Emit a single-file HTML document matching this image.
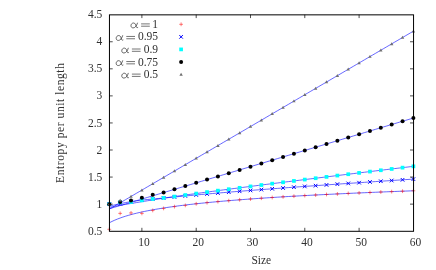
<!DOCTYPE html>
<html><head><meta charset="utf-8"><style>
html,body{margin:0;padding:0;background:#fff;}
svg{display:block}
.t{font-family:"Liberation Serif",serif;font-size:11.5px;fill:#303030;filter:grayscale(1)}
</style></head><body>
<svg width="436" height="270" viewBox="0 0 436 270">
<rect width="436" height="270" fill="#fff"/>
<path d="M109.30 222.82 L112.02 221.42 L114.73 220.18 L117.45 219.05 L120.16 218.02 L122.88 217.07 L125.59 216.20 L128.31 215.38 L131.02 214.62 L133.74 213.90 L136.45 213.23 L139.17 212.59 L141.88 211.98 L144.60 211.40 L147.31 210.85 L150.03 210.33 L152.74 209.82 L155.46 209.34 L158.17 208.88 L160.89 208.43 L163.60 208.00 L166.32 207.59 L169.03 207.18 L171.75 206.80 L174.46 206.42 L177.18 206.06 L179.89 205.70 L182.61 205.36 L185.32 205.03 L188.04 204.70 L190.76 204.39 L193.47 204.08 L196.19 203.78 L198.90 203.49 L201.62 203.21 L204.33 202.93 L207.05 202.65 L209.76 202.39 L212.48 202.13 L215.19 201.87 L217.91 201.63 L220.62 201.38 L223.34 201.14 L226.05 200.91 L228.77 200.68 L231.48 200.45 L234.20 200.23 L236.91 200.02 L239.63 199.80 L242.34 199.59 L245.06 199.39 L247.77 199.19 L250.49 198.99 L253.20 198.79 L255.92 198.60 L258.63 198.41 L261.35 198.22 L264.07 198.04 L266.78 197.86 L269.50 197.68 L272.21 197.51 L274.93 197.33 L277.64 197.16 L280.36 197.00 L283.07 196.83 L285.79 196.67 L288.50 196.51 L291.22 196.35 L293.93 196.19 L296.65 196.04 L299.36 195.88 L302.08 195.73 L304.79 195.58 L307.51 195.44 L310.22 195.29 L312.94 195.15 L315.65 195.01 L318.37 194.87 L321.08 194.73 L323.80 194.59 L326.51 194.46 L329.23 194.32 L331.94 194.19 L334.66 194.06 L337.38 193.93 L340.09 193.80 L342.81 193.68 L345.52 193.55 L348.24 193.43 L350.95 193.31 L353.67 193.18 L356.38 193.06 L359.10 192.95 L361.81 192.83 L364.53 192.71 L367.24 192.60 L369.96 192.48 L372.67 192.37 L375.39 192.26 L378.10 192.15 L380.82 192.04 L383.53 191.93 L386.25 191.82 L388.96 191.71 L391.68 191.61 L394.39 191.50 L397.11 191.40 L399.82 191.29 L402.54 191.19 L405.25 191.09 L407.97 190.99 L410.68 190.89 L413.40 190.79" fill="none" stroke="#0000ff" stroke-width="0.6"/>
<path d="M109.30 206.20 L112.02 205.51 L114.73 204.86 L117.45 204.25 L120.16 203.67 L122.88 203.11 L125.59 202.59 L128.31 202.10 L131.02 201.63 L133.74 201.20 L136.45 200.81 L139.17 200.45 L141.88 200.12 L144.60 199.82 L147.31 199.53 L150.03 199.27 L152.74 199.02 L155.46 198.77 L158.17 198.53 L160.89 198.28 L163.60 198.03 L166.32 197.78 L169.03 197.53 L171.75 197.27 L174.46 197.01 L177.18 196.75 L179.89 196.49 L182.61 196.23 L185.32 195.97 L188.04 195.72 L190.76 195.46 L193.47 195.21 L196.19 194.97 L198.90 194.72 L201.62 194.48 L204.33 194.24 L207.05 194.00 L209.76 193.77 L212.48 193.53 L215.19 193.30 L217.91 193.07 L220.62 192.84 L223.34 192.62 L226.05 192.39 L228.77 192.17 L231.48 191.95 L234.20 191.73 L236.91 191.51 L239.63 191.30 L242.34 191.08 L245.06 190.87 L247.77 190.65 L250.49 190.44 L253.20 190.23 L255.92 190.02 L258.63 189.82 L261.35 189.61 L264.07 189.40 L266.78 189.20 L269.50 189.00 L272.21 188.79 L274.93 188.59 L277.64 188.39 L280.36 188.19 L283.07 187.99 L285.79 187.79 L288.50 187.59 L291.22 187.40 L293.93 187.20 L296.65 187.01 L299.36 186.81 L302.08 186.62 L304.79 186.42 L307.51 186.23 L310.22 186.04 L312.94 185.85 L315.65 185.66 L318.37 185.47 L321.08 185.28 L323.80 185.09 L326.51 184.90 L329.23 184.71 L331.94 184.53 L334.66 184.34 L337.38 184.15 L340.09 183.97 L342.81 183.78 L345.52 183.60 L348.24 183.42 L350.95 183.23 L353.67 183.05 L356.38 182.87 L359.10 182.68 L361.81 182.50 L364.53 182.32 L367.24 182.14 L369.96 181.96 L372.67 181.78 L375.39 181.60 L378.10 181.42 L380.82 181.24 L383.53 181.06 L386.25 180.88 L388.96 180.71 L391.68 180.53 L394.39 180.35 L397.11 180.17 L399.82 180.00 L402.54 179.82 L405.25 179.64 L407.97 179.47 L410.68 179.29 L413.40 179.12" fill="none" stroke="#0000ff" stroke-width="0.6"/>
<path d="M109.30 207.43 L112.02 206.85 L114.73 206.31 L117.45 205.80 L120.16 205.31 L122.88 204.84 L125.59 204.38 L128.31 203.93 L131.02 203.48 L133.74 203.04 L136.45 202.59 L139.17 202.15 L141.88 201.70 L144.60 201.25 L147.31 200.80 L150.03 200.35 L152.74 199.90 L155.46 199.46 L158.17 199.02 L160.89 198.59 L163.60 198.17 L166.32 197.76 L169.03 197.35 L171.75 196.95 L174.46 196.56 L177.18 196.17 L179.89 195.79 L182.61 195.41 L185.32 195.03 L188.04 194.65 L190.76 194.28 L193.47 193.91 L196.19 193.54 L198.90 193.17 L201.62 192.81 L204.33 192.44 L207.05 192.08 L209.76 191.72 L212.48 191.36 L215.19 191.00 L217.91 190.64 L220.62 190.28 L223.34 189.92 L226.05 189.57 L228.77 189.21 L231.48 188.86 L234.20 188.51 L236.91 188.16 L239.63 187.81 L242.34 187.46 L245.06 187.11 L247.77 186.76 L250.49 186.41 L253.20 186.06 L255.92 185.72 L258.63 185.37 L261.35 185.03 L264.07 184.68 L266.78 184.34 L269.50 183.99 L272.21 183.65 L274.93 183.31 L277.64 182.97 L280.36 182.63 L283.07 182.29 L285.79 181.95 L288.50 181.61 L291.22 181.27 L293.93 180.93 L296.65 180.59 L299.36 180.25 L302.08 179.91 L304.79 179.58 L307.51 179.24 L310.22 178.90 L312.94 178.57 L315.65 178.23 L318.37 177.90 L321.08 177.56 L323.80 177.23 L326.51 176.89 L329.23 176.56 L331.94 176.22 L334.66 175.89 L337.38 175.56 L340.09 175.23 L342.81 174.89 L345.52 174.56 L348.24 174.23 L350.95 173.90 L353.67 173.57 L356.38 173.23 L359.10 172.90 L361.81 172.57 L364.53 172.24 L367.24 171.91 L369.96 171.58 L372.67 171.25 L375.39 170.92 L378.10 170.59 L380.82 170.27 L383.53 169.94 L386.25 169.61 L388.96 169.28 L391.68 168.95 L394.39 168.62 L397.11 168.30 L399.82 167.97 L402.54 167.64 L405.25 167.31 L407.97 166.99 L410.68 166.66 L413.40 166.33" fill="none" stroke="#0000ff" stroke-width="0.6"/>
<path d="M109.30 208.80 L112.02 207.99 L114.73 207.18 L117.45 206.37 L120.16 205.56 L122.88 204.75 L125.59 203.94 L128.31 203.13 L131.02 202.32 L133.74 201.51 L136.45 200.70 L139.17 199.89 L141.88 199.08 L144.60 198.27 L147.31 197.46 L150.03 196.65 L152.74 195.83 L155.46 195.02 L158.17 194.21 L160.89 193.40 L163.60 192.59 L166.32 191.78 L169.03 190.97 L171.75 190.16 L174.46 189.35 L177.18 188.54 L179.89 187.73 L182.61 186.92 L185.32 186.11 L188.04 185.30 L190.76 184.49 L193.47 183.68 L196.19 182.87 L198.90 182.06 L201.62 181.25 L204.33 180.43 L207.05 179.62 L209.76 178.81 L212.48 178.00 L215.19 177.19 L217.91 176.38 L220.62 175.57 L223.34 174.76 L226.05 173.95 L228.77 173.14 L231.48 172.33 L234.20 171.52 L236.91 170.71 L239.63 169.90 L242.34 169.09 L245.06 168.28 L247.77 167.47 L250.49 166.66 L253.20 165.85 L255.92 165.03 L258.63 164.22 L261.35 163.41 L264.07 162.60 L266.78 161.79 L269.50 160.98 L272.21 160.17 L274.93 159.36 L277.64 158.55 L280.36 157.74 L283.07 156.93 L285.79 156.12 L288.50 155.31 L291.22 154.50 L293.93 153.69 L296.65 152.88 L299.36 152.07 L302.08 151.26 L304.79 150.45 L307.51 149.63 L310.22 148.82 L312.94 148.01 L315.65 147.20 L318.37 146.39 L321.08 145.58 L323.80 144.77 L326.51 143.96 L329.23 143.15 L331.94 142.34 L334.66 141.53 L337.38 140.72 L340.09 139.91 L342.81 139.10 L345.52 138.29 L348.24 137.48 L350.95 136.67 L353.67 135.86 L356.38 135.05 L359.10 134.24 L361.81 133.42 L364.53 132.61 L367.24 131.80 L369.96 130.99 L372.67 130.18 L375.39 129.37 L378.10 128.56 L380.82 127.75 L383.53 126.94 L386.25 126.13 L388.96 125.32 L391.68 124.51 L394.39 123.70 L397.11 122.89 L399.82 122.08 L402.54 121.27 L405.25 120.46 L407.97 119.65 L410.68 118.84 L413.40 118.02" fill="none" stroke="#0000ff" stroke-width="0.6"/>
<path d="M109.30 209.18 L112.02 207.59 L114.73 206.00 L117.45 204.41 L120.16 202.82 L122.88 201.23 L125.59 199.64 L128.31 198.05 L131.02 196.46 L133.74 194.87 L136.45 193.28 L139.17 191.69 L141.88 190.10 L144.60 188.51 L147.31 186.92 L150.03 185.33 L152.74 183.75 L155.46 182.16 L158.17 180.57 L160.89 178.98 L163.60 177.39 L166.32 175.80 L169.03 174.21 L171.75 172.62 L174.46 171.03 L177.18 169.44 L179.89 167.85 L182.61 166.26 L185.32 164.67 L188.04 163.08 L190.76 161.49 L193.47 159.90 L196.19 158.32 L198.90 156.73 L201.62 155.14 L204.33 153.55 L207.05 151.96 L209.76 150.37 L212.48 148.78 L215.19 147.19 L217.91 145.60 L220.62 144.01 L223.34 142.42 L226.05 140.83 L228.77 139.24 L231.48 137.65 L234.20 136.06 L236.91 134.47 L239.63 132.89 L242.34 131.30 L245.06 129.71 L247.77 128.12 L250.49 126.53 L253.20 124.94 L255.92 123.35 L258.63 121.76 L261.35 120.17 L264.07 118.58 L266.78 116.99 L269.50 115.40 L272.21 113.81 L274.93 112.22 L277.64 110.63 L280.36 109.04 L283.07 107.46 L285.79 105.87 L288.50 104.28 L291.22 102.69 L293.93 101.10 L296.65 99.51 L299.36 97.92 L302.08 96.33 L304.79 94.74 L307.51 93.15 L310.22 91.56 L312.94 89.97 L315.65 88.38 L318.37 86.79 L321.08 85.20 L323.80 83.61 L326.51 82.03 L329.23 80.44 L331.94 78.85 L334.66 77.26 L337.38 75.67 L340.09 74.08 L342.81 72.49 L345.52 70.90 L348.24 69.31 L350.95 67.72 L353.67 66.13 L356.38 64.54 L359.10 62.95 L361.81 61.36 L364.53 59.77 L367.24 58.18 L369.96 56.59 L372.67 55.01 L375.39 53.42 L378.10 51.83 L380.82 50.24 L383.53 48.65 L386.25 47.06 L388.96 45.47 L391.68 43.88 L394.39 42.29 L397.11 40.70 L399.82 39.11 L402.54 37.52 L405.25 35.93 L407.97 34.34 L410.68 32.75 L413.40 31.16" fill="none" stroke="#0000ff" stroke-width="0.6"/>
<path d="M107.40 229.31h3.8M109.30 227.41v3.8" stroke="#ff0000" stroke-width="0.5"/>
<path d="M118.26 213.39h3.8M120.16 211.49v3.8" stroke="#ff0000" stroke-width="0.5"/>
<path d="M129.12 212.91h3.8M131.02 211.01v3.8" stroke="#ff0000" stroke-width="0.5"/>
<path d="M139.98 213.39h3.8M141.88 211.49v3.8" stroke="#ff0000" stroke-width="0.5"/>
<path d="M150.84 210.42h3.8M152.74 208.52v3.8" stroke="#ff0000" stroke-width="0.5"/>
<path d="M161.70 208.41h3.8M163.60 206.51v3.8" stroke="#ff0000" stroke-width="0.5"/>
<path d="M172.56 206.63h3.8M174.46 204.73v3.8" stroke="#ff0000" stroke-width="0.5"/>
<path d="M183.42 205.38h3.8M185.32 203.48v3.8" stroke="#ff0000" stroke-width="0.5"/>
<path d="M194.29 203.78h3.8M196.19 201.88v3.8" stroke="#ff0000" stroke-width="0.5"/>
<path d="M205.15 202.65h3.8M207.05 200.75v3.8" stroke="#ff0000" stroke-width="0.5"/>
<path d="M216.01 201.63h3.8M217.91 199.73v3.8" stroke="#ff0000" stroke-width="0.5"/>
<path d="M226.87 200.68h3.8M228.77 198.78v3.8" stroke="#ff0000" stroke-width="0.5"/>
<path d="M237.73 199.80h3.8M239.63 197.90v3.8" stroke="#ff0000" stroke-width="0.5"/>
<path d="M248.59 198.99h3.8M250.49 197.09v3.8" stroke="#ff0000" stroke-width="0.5"/>
<path d="M259.45 198.22h3.8M261.35 196.32v3.8" stroke="#ff0000" stroke-width="0.5"/>
<path d="M270.31 197.51h3.8M272.21 195.61v3.8" stroke="#ff0000" stroke-width="0.5"/>
<path d="M281.17 196.83h3.8M283.07 194.93v3.8" stroke="#ff0000" stroke-width="0.5"/>
<path d="M292.03 196.19h3.8M293.93 194.29v3.8" stroke="#ff0000" stroke-width="0.5"/>
<path d="M302.89 195.58h3.8M304.79 193.68v3.8" stroke="#ff0000" stroke-width="0.5"/>
<path d="M313.75 195.01h3.8M315.65 193.11v3.8" stroke="#ff0000" stroke-width="0.5"/>
<path d="M324.61 194.46h3.8M326.51 192.56v3.8" stroke="#ff0000" stroke-width="0.5"/>
<path d="M335.48 193.93h3.8M337.38 192.03v3.8" stroke="#ff0000" stroke-width="0.5"/>
<path d="M346.34 193.43h3.8M348.24 191.53v3.8" stroke="#ff0000" stroke-width="0.5"/>
<path d="M357.20 192.95h3.8M359.10 191.05v3.8" stroke="#ff0000" stroke-width="0.5"/>
<path d="M368.06 192.48h3.8M369.96 190.58v3.8" stroke="#ff0000" stroke-width="0.5"/>
<path d="M378.92 192.04h3.8M380.82 190.14v3.8" stroke="#ff0000" stroke-width="0.5"/>
<path d="M389.78 191.61h3.8M391.68 189.71v3.8" stroke="#ff0000" stroke-width="0.5"/>
<path d="M400.64 191.19h3.8M402.54 189.29v3.8" stroke="#ff0000" stroke-width="0.5"/>
<path d="M411.50 190.79h3.8M413.40 188.89v3.8" stroke="#ff0000" stroke-width="0.5"/>
<path d="M107.50 202.34l3.6 3.6M107.50 205.94l3.6 -3.6" stroke="#0000ff" stroke-width="1.0"/>
<path d="M118.36 201.87l3.6 3.6M118.36 205.47l3.6 -3.6" stroke="#0000ff" stroke-width="1.0"/>
<path d="M129.22 199.83l3.6 3.6M129.22 203.43l3.6 -3.6" stroke="#0000ff" stroke-width="1.0"/>
<path d="M140.08 198.32l3.6 3.6M140.08 201.92l3.6 -3.6" stroke="#0000ff" stroke-width="1.0"/>
<path d="M150.94 197.22l3.6 3.6M150.94 200.82l3.6 -3.6" stroke="#0000ff" stroke-width="1.0"/>
<path d="M161.80 196.23l3.6 3.6M161.80 199.83l3.6 -3.6" stroke="#0000ff" stroke-width="1.0"/>
<path d="M172.66 195.21l3.6 3.6M172.66 198.81l3.6 -3.6" stroke="#0000ff" stroke-width="1.0"/>
<path d="M183.52 194.17l3.6 3.6M183.52 197.77l3.6 -3.6" stroke="#0000ff" stroke-width="1.0"/>
<path d="M194.39 193.17l3.6 3.6M194.39 196.77l3.6 -3.6" stroke="#0000ff" stroke-width="1.0"/>
<path d="M205.25 192.20l3.6 3.6M205.25 195.80l3.6 -3.6" stroke="#0000ff" stroke-width="1.0"/>
<path d="M216.11 191.27l3.6 3.6M216.11 194.87l3.6 -3.6" stroke="#0000ff" stroke-width="1.0"/>
<path d="M226.97 190.37l3.6 3.6M226.97 193.97l3.6 -3.6" stroke="#0000ff" stroke-width="1.0"/>
<path d="M237.83 189.50l3.6 3.6M237.83 193.10l3.6 -3.6" stroke="#0000ff" stroke-width="1.0"/>
<path d="M248.69 188.64l3.6 3.6M248.69 192.24l3.6 -3.6" stroke="#0000ff" stroke-width="1.0"/>
<path d="M259.55 187.81l3.6 3.6M259.55 191.41l3.6 -3.6" stroke="#0000ff" stroke-width="1.0"/>
<path d="M270.41 186.99l3.6 3.6M270.41 190.59l3.6 -3.6" stroke="#0000ff" stroke-width="1.0"/>
<path d="M281.27 186.19l3.6 3.6M281.27 189.79l3.6 -3.6" stroke="#0000ff" stroke-width="1.0"/>
<path d="M292.13 185.40l3.6 3.6M292.13 189.00l3.6 -3.6" stroke="#0000ff" stroke-width="1.0"/>
<path d="M302.99 184.62l3.6 3.6M302.99 188.22l3.6 -3.6" stroke="#0000ff" stroke-width="1.0"/>
<path d="M313.85 183.86l3.6 3.6M313.85 187.46l3.6 -3.6" stroke="#0000ff" stroke-width="1.0"/>
<path d="M324.71 183.10l3.6 3.6M324.71 186.70l3.6 -3.6" stroke="#0000ff" stroke-width="1.0"/>
<path d="M335.57 182.35l3.6 3.6M335.57 185.95l3.6 -3.6" stroke="#0000ff" stroke-width="1.0"/>
<path d="M346.44 181.62l3.6 3.6M346.44 185.22l3.6 -3.6" stroke="#0000ff" stroke-width="1.0"/>
<path d="M357.30 180.88l3.6 3.6M357.30 184.48l3.6 -3.6" stroke="#0000ff" stroke-width="1.0"/>
<path d="M368.16 180.16l3.6 3.6M368.16 183.76l3.6 -3.6" stroke="#0000ff" stroke-width="1.0"/>
<path d="M379.02 179.44l3.6 3.6M379.02 183.04l3.6 -3.6" stroke="#0000ff" stroke-width="1.0"/>
<path d="M389.88 178.73l3.6 3.6M389.88 182.33l3.6 -3.6" stroke="#0000ff" stroke-width="1.0"/>
<path d="M400.74 178.02l3.6 3.6M400.74 181.62l3.6 -3.6" stroke="#0000ff" stroke-width="1.0"/>
<path d="M411.60 177.32l3.6 3.6M411.60 180.92l3.6 -3.6" stroke="#0000ff" stroke-width="1.0"/>
<rect x="107.45" y="202.29" width="3.7" height="3.7" fill="#00ffff"/>
<rect x="118.31" y="200.39" width="3.7" height="3.7" fill="#00ffff"/>
<rect x="129.17" y="200.12" width="3.7" height="3.7" fill="#00ffff"/>
<rect x="140.03" y="198.50" width="3.7" height="3.7" fill="#00ffff"/>
<rect x="150.89" y="197.15" width="3.7" height="3.7" fill="#00ffff"/>
<rect x="161.75" y="196.06" width="3.7" height="3.7" fill="#00ffff"/>
<rect x="172.61" y="194.71" width="3.7" height="3.7" fill="#00ffff"/>
<rect x="183.47" y="193.18" width="3.7" height="3.7" fill="#00ffff"/>
<rect x="194.34" y="191.69" width="3.7" height="3.7" fill="#00ffff"/>
<rect x="205.20" y="190.23" width="3.7" height="3.7" fill="#00ffff"/>
<rect x="216.06" y="188.79" width="3.7" height="3.7" fill="#00ffff"/>
<rect x="226.92" y="187.36" width="3.7" height="3.7" fill="#00ffff"/>
<rect x="237.78" y="185.96" width="3.7" height="3.7" fill="#00ffff"/>
<rect x="248.64" y="184.56" width="3.7" height="3.7" fill="#00ffff"/>
<rect x="259.50" y="183.18" width="3.7" height="3.7" fill="#00ffff"/>
<rect x="270.36" y="181.80" width="3.7" height="3.7" fill="#00ffff"/>
<rect x="281.22" y="180.44" width="3.7" height="3.7" fill="#00ffff"/>
<rect x="292.08" y="179.08" width="3.7" height="3.7" fill="#00ffff"/>
<rect x="302.94" y="177.73" width="3.7" height="3.7" fill="#00ffff"/>
<rect x="313.80" y="176.38" width="3.7" height="3.7" fill="#00ffff"/>
<rect x="324.66" y="175.04" width="3.7" height="3.7" fill="#00ffff"/>
<rect x="335.52" y="173.71" width="3.7" height="3.7" fill="#00ffff"/>
<rect x="346.39" y="172.38" width="3.7" height="3.7" fill="#00ffff"/>
<rect x="357.25" y="171.05" width="3.7" height="3.7" fill="#00ffff"/>
<rect x="368.11" y="169.73" width="3.7" height="3.7" fill="#00ffff"/>
<rect x="378.97" y="168.42" width="3.7" height="3.7" fill="#00ffff"/>
<rect x="389.83" y="167.10" width="3.7" height="3.7" fill="#00ffff"/>
<rect x="400.69" y="165.79" width="3.7" height="3.7" fill="#00ffff"/>
<rect x="411.55" y="164.48" width="3.7" height="3.7" fill="#00ffff"/>
<circle cx="109.30" cy="204.14" r="2.0" fill="#000"/>
<circle cx="120.16" cy="201.97" r="2.0" fill="#000"/>
<circle cx="131.02" cy="200.62" r="2.0" fill="#000"/>
<circle cx="141.88" cy="197.64" r="2.0" fill="#000"/>
<circle cx="152.74" cy="194.72" r="2.0" fill="#000"/>
<circle cx="163.60" cy="192.39" r="2.0" fill="#000"/>
<circle cx="174.46" cy="189.35" r="2.0" fill="#000"/>
<circle cx="185.32" cy="186.11" r="2.0" fill="#000"/>
<circle cx="196.19" cy="182.87" r="2.0" fill="#000"/>
<circle cx="207.05" cy="179.62" r="2.0" fill="#000"/>
<circle cx="217.91" cy="176.38" r="2.0" fill="#000"/>
<circle cx="228.77" cy="173.14" r="2.0" fill="#000"/>
<circle cx="239.63" cy="169.90" r="2.0" fill="#000"/>
<circle cx="250.49" cy="166.66" r="2.0" fill="#000"/>
<circle cx="261.35" cy="163.41" r="2.0" fill="#000"/>
<circle cx="272.21" cy="160.17" r="2.0" fill="#000"/>
<circle cx="283.07" cy="156.93" r="2.0" fill="#000"/>
<circle cx="293.93" cy="153.69" r="2.0" fill="#000"/>
<circle cx="304.79" cy="150.45" r="2.0" fill="#000"/>
<circle cx="315.65" cy="147.20" r="2.0" fill="#000"/>
<circle cx="326.51" cy="143.96" r="2.0" fill="#000"/>
<circle cx="337.38" cy="140.72" r="2.0" fill="#000"/>
<circle cx="348.24" cy="137.48" r="2.0" fill="#000"/>
<circle cx="359.10" cy="134.24" r="2.0" fill="#000"/>
<circle cx="369.96" cy="130.99" r="2.0" fill="#000"/>
<circle cx="380.82" cy="127.75" r="2.0" fill="#000"/>
<circle cx="391.68" cy="124.51" r="2.0" fill="#000"/>
<circle cx="402.54" cy="121.27" r="2.0" fill="#000"/>
<circle cx="413.40" cy="118.02" r="2.0" fill="#000"/>
<path d="M109.30 202.44L111.00 205.41H107.60Z" fill="#707070"/>
<path d="M120.16 198.65L121.86 201.62H118.46Z" fill="#707070"/>
<path d="M131.02 194.76L132.72 197.74H129.32Z" fill="#707070"/>
<path d="M141.88 188.40L143.58 191.38H140.18Z" fill="#707070"/>
<path d="M152.74 182.05L154.44 185.02H151.04Z" fill="#707070"/>
<path d="M163.60 175.69L165.30 178.66H161.90Z" fill="#707070"/>
<path d="M174.46 169.33L176.16 172.31H172.76Z" fill="#707070"/>
<path d="M185.32 162.97L187.02 165.95H183.62Z" fill="#707070"/>
<path d="M196.19 156.62L197.89 159.59H194.49Z" fill="#707070"/>
<path d="M207.05 150.26L208.75 153.23H205.35Z" fill="#707070"/>
<path d="M217.91 143.90L219.61 146.88H216.21Z" fill="#707070"/>
<path d="M228.77 137.54L230.47 140.52H227.07Z" fill="#707070"/>
<path d="M239.63 131.19L241.33 134.16H237.93Z" fill="#707070"/>
<path d="M250.49 124.83L252.19 127.80H248.79Z" fill="#707070"/>
<path d="M261.35 118.47L263.05 121.45H259.65Z" fill="#707070"/>
<path d="M272.21 112.11L273.91 115.09H270.51Z" fill="#707070"/>
<path d="M283.07 105.76L284.77 108.73H281.37Z" fill="#707070"/>
<path d="M293.93 99.40L295.63 102.37H292.23Z" fill="#707070"/>
<path d="M304.79 93.04L306.49 96.02H303.09Z" fill="#707070"/>
<path d="M315.65 86.68L317.35 89.66H313.95Z" fill="#707070"/>
<path d="M326.51 80.33L328.21 83.30H324.81Z" fill="#707070"/>
<path d="M337.38 73.97L339.07 76.94H335.68Z" fill="#707070"/>
<path d="M348.24 67.61L349.94 70.58H346.54Z" fill="#707070"/>
<path d="M359.10 61.25L360.80 64.23H357.40Z" fill="#707070"/>
<path d="M369.96 54.89L371.66 57.87H368.26Z" fill="#707070"/>
<path d="M380.82 48.54L382.52 51.51H379.12Z" fill="#707070"/>
<path d="M391.68 42.18L393.38 45.15H389.98Z" fill="#707070"/>
<path d="M402.54 35.82L404.24 38.80H400.84Z" fill="#707070"/>
<path d="M413.40 29.46L415.10 32.44H411.70Z" fill="#707070"/>
<rect x="109.45" y="14.85" width="304.10" height="216.45" fill="none" stroke="#000" stroke-width="1.0"/>
<text x="102.3" y="234.80" text-anchor="end" class="t">0.5</text>
<path d="M109.3 204.14h3.4M413.4 204.14h-3.4" stroke="#000" stroke-width="0.7"/>
<text x="102.3" y="207.74" text-anchor="end" class="t">1</text>
<path d="M109.3 177.07h3.4M413.4 177.07h-3.4" stroke="#000" stroke-width="0.7"/>
<text x="102.3" y="180.67" text-anchor="end" class="t">1.5</text>
<path d="M109.3 150.01h3.4M413.4 150.01h-3.4" stroke="#000" stroke-width="0.7"/>
<text x="102.3" y="153.61" text-anchor="end" class="t">2</text>
<path d="M109.3 122.95h3.4M413.4 122.95h-3.4" stroke="#000" stroke-width="0.7"/>
<text x="102.3" y="126.55" text-anchor="end" class="t">2.5</text>
<path d="M109.3 95.89h3.4M413.4 95.89h-3.4" stroke="#000" stroke-width="0.7"/>
<text x="102.3" y="99.49" text-anchor="end" class="t">3</text>
<path d="M109.3 68.82h3.4M413.4 68.82h-3.4" stroke="#000" stroke-width="0.7"/>
<text x="102.3" y="72.42" text-anchor="end" class="t">3.5</text>
<path d="M109.3 41.76h3.4M413.4 41.76h-3.4" stroke="#000" stroke-width="0.7"/>
<text x="102.3" y="45.36" text-anchor="end" class="t">4</text>
<text x="102.3" y="18.30" text-anchor="end" class="t">4.5</text>
<path d="M141.88 231.2v-3.4M141.88 14.7v3.4" stroke="#000" stroke-width="0.7"/>
<text x="143.98" y="246.2" text-anchor="middle" class="t">10</text>
<path d="M196.19 231.2v-3.4M196.19 14.7v3.4" stroke="#000" stroke-width="0.7"/>
<text x="198.29" y="246.2" text-anchor="middle" class="t">20</text>
<path d="M250.49 231.2v-3.4M250.49 14.7v3.4" stroke="#000" stroke-width="0.7"/>
<text x="252.59" y="246.2" text-anchor="middle" class="t">30</text>
<path d="M304.79 231.2v-3.4M304.79 14.7v3.4" stroke="#000" stroke-width="0.7"/>
<text x="306.89" y="246.2" text-anchor="middle" class="t">40</text>
<path d="M359.10 231.2v-3.4M359.10 14.7v3.4" stroke="#000" stroke-width="0.7"/>
<text x="361.20" y="246.2" text-anchor="middle" class="t">50</text>
<text x="415.50" y="246.2" text-anchor="middle" class="t">60</text>
<text x="261.3" y="263.9" text-anchor="middle" class="t" textLength="19.4" lengthAdjust="spacing">Size</text>
<text transform="translate(63.8,123) rotate(-90)" text-anchor="middle" class="t" textLength="119.8" lengthAdjust="spacing">Entropy per unit length</text>
<text x="158.1" y="27.90" text-anchor="end" class="t">1</text>
<path d="M141.10 23.90H149.80M141.10 26.20H149.80" stroke="#000" stroke-width="0.55"/>
<path transform="translate(130.60,22.90) scale(0.94,1)" d="M7.3 0.2C6.6 2.4 5.0 5.0 2.7 5.0C1.1 5.0 0.4 3.9 0.4 2.8C0.4 1.3 1.6 0.1 3.1 0.1C5.0 0.1 5.6 2.0 6.0 3.6C6.2 4.6 6.7 5.0 7.6 4.6" fill="none" stroke="#222" stroke-width="0.7" stroke-linecap="round"/>
<path d="M179.20 24.30h3.8M181.10 22.40v3.8" stroke="#ff0000" stroke-width="0.5"/>
<text x="158.1" y="40.45" text-anchor="end" class="t">0.95</text>
<path d="M126.30 36.45H135.00M126.30 38.75H135.00" stroke="#000" stroke-width="0.55"/>
<path transform="translate(115.80,35.45) scale(0.94,1)" d="M7.3 0.2C6.6 2.4 5.0 5.0 2.7 5.0C1.1 5.0 0.4 3.9 0.4 2.8C0.4 1.3 1.6 0.1 3.1 0.1C5.0 0.1 5.6 2.0 6.0 3.6C6.2 4.6 6.7 5.0 7.6 4.6" fill="none" stroke="#222" stroke-width="0.7" stroke-linecap="round"/>
<path d="M179.30 35.05l3.6 3.6M179.30 38.65l3.6 -3.6" stroke="#0000ff" stroke-width="1.0"/>
<text x="158.1" y="53.00" text-anchor="end" class="t">0.9</text>
<path d="M131.90 49.00H140.60M131.90 51.30H140.60" stroke="#000" stroke-width="0.55"/>
<path transform="translate(121.40,48.00) scale(0.94,1)" d="M7.3 0.2C6.6 2.4 5.0 5.0 2.7 5.0C1.1 5.0 0.4 3.9 0.4 2.8C0.4 1.3 1.6 0.1 3.1 0.1C5.0 0.1 5.6 2.0 6.0 3.6C6.2 4.6 6.7 5.0 7.6 4.6" fill="none" stroke="#222" stroke-width="0.7" stroke-linecap="round"/>
<rect x="179.25" y="47.55" width="3.7" height="3.7" fill="#00ffff"/>
<text x="158.1" y="65.55" text-anchor="end" class="t">0.75</text>
<path d="M126.30 61.55H135.00M126.30 63.85H135.00" stroke="#000" stroke-width="0.55"/>
<path transform="translate(115.80,60.55) scale(0.94,1)" d="M7.3 0.2C6.6 2.4 5.0 5.0 2.7 5.0C1.1 5.0 0.4 3.9 0.4 2.8C0.4 1.3 1.6 0.1 3.1 0.1C5.0 0.1 5.6 2.0 6.0 3.6C6.2 4.6 6.7 5.0 7.6 4.6" fill="none" stroke="#222" stroke-width="0.7" stroke-linecap="round"/>
<circle cx="181.10" cy="61.95" r="2.0" fill="#000"/>
<text x="158.1" y="78.10" text-anchor="end" class="t">0.5</text>
<path d="M131.90 74.10H140.60M131.90 76.40H140.60" stroke="#000" stroke-width="0.55"/>
<path transform="translate(121.40,73.10) scale(0.94,1)" d="M7.3 0.2C6.6 2.4 5.0 5.0 2.7 5.0C1.1 5.0 0.4 3.9 0.4 2.8C0.4 1.3 1.6 0.1 3.1 0.1C5.0 0.1 5.6 2.0 6.0 3.6C6.2 4.6 6.7 5.0 7.6 4.6" fill="none" stroke="#222" stroke-width="0.7" stroke-linecap="round"/>
<path d="M181.10 72.80L182.80 75.78H179.40Z" fill="#707070"/>
</svg>
</body></html>
